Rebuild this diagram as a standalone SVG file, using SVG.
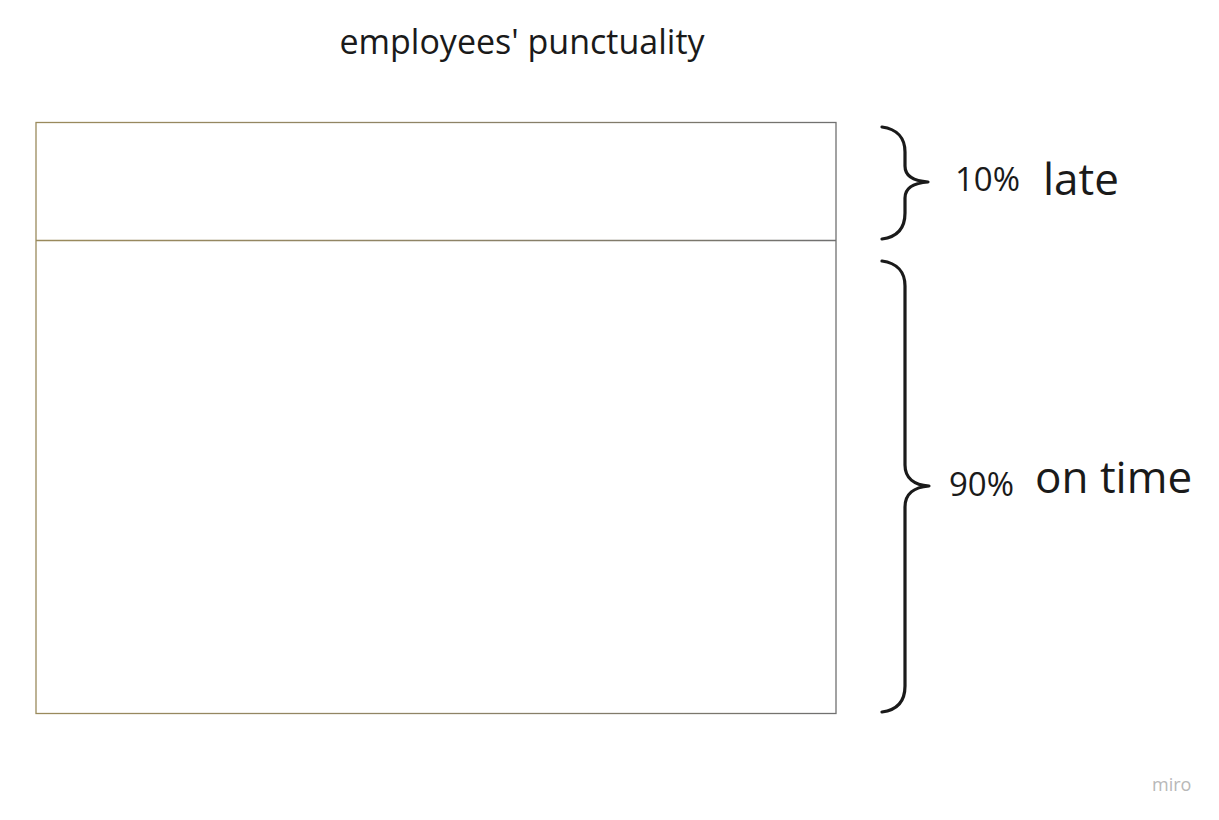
<svg xmlns="http://www.w3.org/2000/svg" width="1219" height="820" viewBox="0 0 1219 820">
<defs>
<linearGradient id="edge" gradientUnits="userSpaceOnUse" x1="36" y1="0" x2="836" y2="0">
<stop offset="0" stop-color="#9a8a5c"/>
<stop offset="0.5" stop-color="#8f8466"/>
<stop offset="1" stop-color="#707070"/>
</linearGradient>
</defs>
<style>
.t{font-family:"Open Sans","Noto Sans","DejaVu Sans",sans-serif;fill:#1a1a1a}
.brace{fill:none;stroke:#1a1a1a;stroke-width:3.2;stroke-linecap:round;stroke-linejoin:round}
</style>
<rect width="1219" height="820" fill="#ffffff"/>
<text class="t" x="522" y="54" font-size="34" text-anchor="middle">employees' punctuality</text>
<g id="chart">
<rect x="36" y="122.5" width="800" height="591" fill="#ffffff" stroke="url(#edge)" stroke-width="1.3"/>
<line x1="36" y1="240.5" x2="836" y2="240.5" stroke="url(#edge)" stroke-width="1.3"/>
</g>
<g id="connectors">
<path class="brace" d="M882,127 C897,129 905,138 905,152 L905,166 C905,176 914,181 928,182 C914,183 905,188 905,198 L905,213 C905,228 897,237 882,239"/>
<path class="brace" d="M882,261 C897,263 905,272 905,286 L905,465 C905,478 914,485 929,486 C914,487 905,494 905,507 L905,686 C905,701 897,710 882,712"/>
</g>
<g id="late">
<text class="t" x="955" y="191" font-size="33">10%</text>
<text class="t" x="1043" y="195" font-size="44">late</text>
</g>
<g id="ontime">
<text class="t" x="949" y="496" font-size="33">90%</text>
<text class="t" x="1035" y="493" font-size="44">on time</text>
</g>
<text x="1152" y="791" font-family="'Open Sans','Noto Sans',sans-serif" font-size="18" fill="#b8b8b8">miro</text>
</svg>
